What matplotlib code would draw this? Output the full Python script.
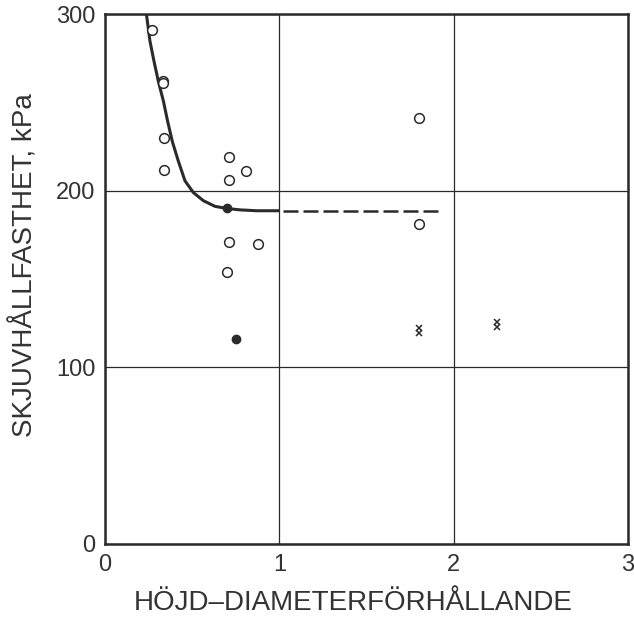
import matplotlib.pyplot as plt
import numpy as np

# open circles (ratio, shear strength)
open_x = [0.27, 0.33, 0.335, 0.34, 0.34, 0.71, 0.71, 0.81, 0.71, 0.88, 0.70, 1.80, 1.80]
open_y = [291, 262, 261, 230, 212, 219, 206, 211, 171, 170, 154, 241, 181]
# filled circles
fill_x = [0.70, 0.75]
fill_y = [190, 116]
# crosses
cross_x = [1.80, 1.80, 2.25, 2.25]
cross_y = [122.5, 119.5, 125.5, 123.0]
# fitted curve
curve_x = [0.239, 0.258, 0.281, 0.306, 0.335, 0.359, 0.386, 0.420, 0.459,
           0.507, 0.564, 0.631, 0.698, 0.774, 0.870, 0.994]
curve_y = [299, 284.7, 273.4, 262, 250.8, 239.5, 228, 217, 205.6,
           199, 194.4, 191.2, 190, 189.2, 188.7, 188.7]
# dashed extension
dash_x = [1.02, 1.94]
dash_y = [188.7, 188.7]

plt.rcParams['font.family'] = ['Liberation Sans', 'DejaVu Sans']
ink = '#2a2a2a'
txt = '#333333'

fig = plt.figure(figsize=(6.34, 6.2), dpi=100)
ax = fig.add_axes([0.1656, 0.1226, 0.825, 0.8545])

ax.plot(curve_x, curve_y, color=ink, lw=2.2, solid_joinstyle='round', zorder=3)
ax.plot(dash_x, dash_y, color=ink, lw=1.8, dashes=(6, 2), zorder=3)
ax.plot(open_x, open_y, 'o', ms=7, mfc='white', mec=ink, mew=1.1, zorder=4)
ax.plot(fill_x, fill_y, 'o', ms=6, mfc=ink, mec=ink, zorder=4)
ax.plot(cross_x, cross_y, 'x', ms=5, mec=ink, mew=1.1, zorder=4)

ax.set_xlim(0, 3)
ax.set_ylim(0, 300)
ax.set_xticks([0, 1, 2, 3])
ax.set_yticks([0, 100, 200, 300])
ax.grid(True, color=ink, lw=0.9)
ax.set_axisbelow(True)
ax.tick_params(length=0, labelsize=17, labelcolor=txt, pad=7)
for s in ax.spines.values():
    s.set_linewidth(1.8)
    s.set_color(ink)

ax.set_xlabel('HÖJD\u2013DIAMETERFÖRHÅLLANDE', fontsize=20, color=txt)
ax.set_ylabel('SKJUVHÅLLFASTHET, kPa', fontsize=20, color=txt)
ax.xaxis.set_label_coords(0.474, -0.086)
ax.yaxis.set_label_coords(-0.128, 0.526)

fig.savefig('out.png', dpi=100)
